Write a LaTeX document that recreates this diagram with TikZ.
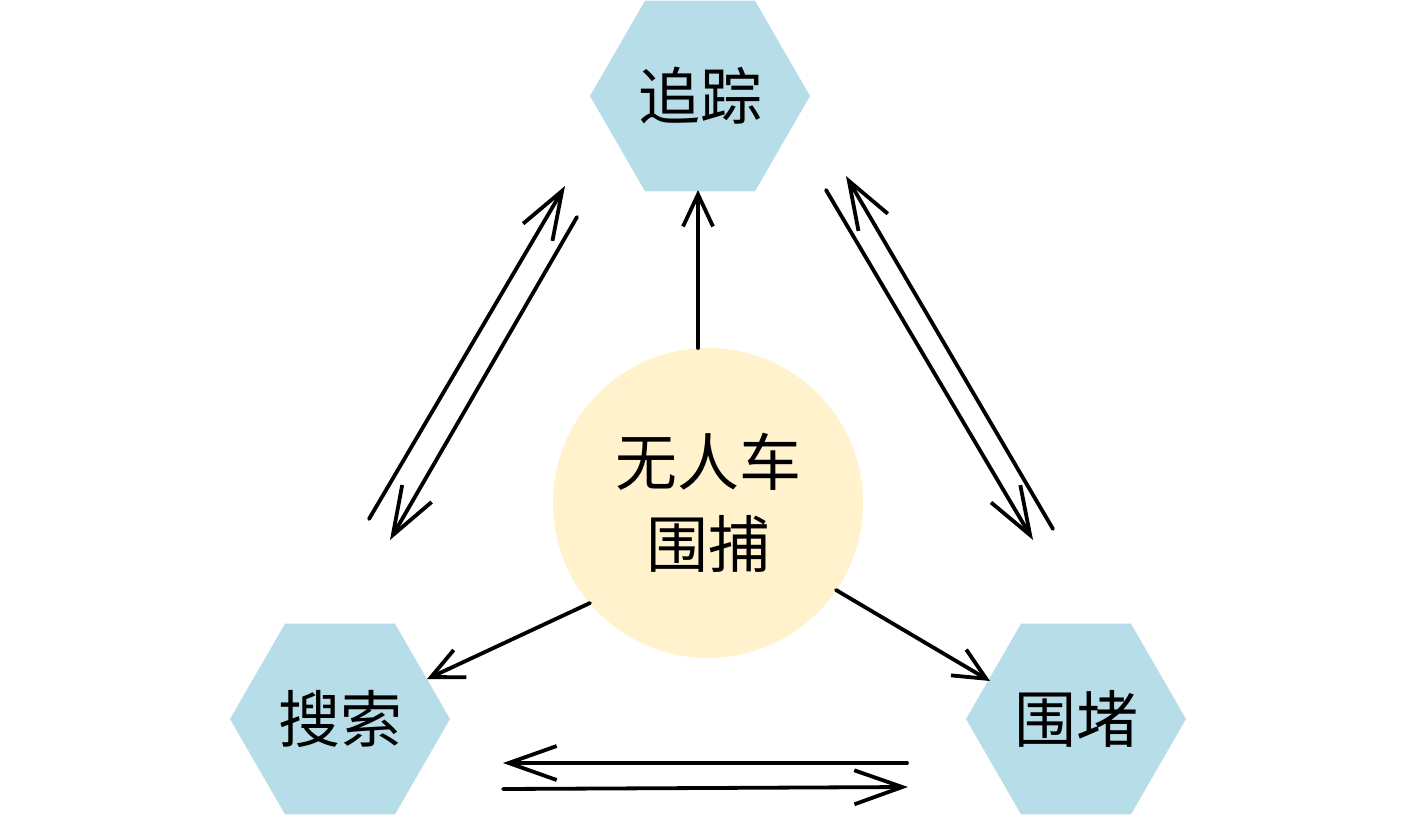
\documentclass[tikz,border=0pt]{standalone}
\usepackage{fontspec}
\newfontfamily\cjk{Noto Sans CJK SC}
\usetikzlibrary{arrows.meta,shapes.geometric}
\definecolor{hexblue}{HTML}{B7DDE8}
\definecolor{circyel}{HTML}{FFF2CC}
\tikzset{
  hexnode/.style={regular polygon, regular polygon sides=6, shape border rotate=0, minimum size=220pt, inner sep=0pt, fill=hexblue, font=\cjk\fontsize{62}{66}\selectfont},
  circnode/.style={circle, minimum size=310pt, inner sep=0pt, fill=circyel, align=center, font=\cjk\fontsize{62}{82}\selectfont},
  conn/.style={line width=3.8pt, line cap=round, -{Straight Barb[length=48pt,width=34pt,line width=3.8pt]}},
  shortconn/.style={line width=3.8pt, line cap=round, -{Straight Barb[length=32pt,width=30pt,line width=3.8pt]}},
}
\begin{document}
\begin{tikzpicture}[x=1pt,y=-1pt]
\useasboundingbox[fill=white] (0,0) rectangle (1417,817);
\node[hexnode] (track) at (700,96) {追踪};
\node[hexnode] (search) at (340,719) {搜索};
\node[hexnode] (block) at (1076,719) {围堵};
\node[circnode] (ctr) at (708,503) {无人车\\围捕};
% from centre
\coordinate (c1) at (698,348);
\coordinate (t1) at (698,190);
\draw[shortconn] (c1) -- (t1);
\coordinate (c2) at (590,603);
\coordinate (s2) at (427,679);
\draw[shortconn] (c2) -- (s2);
\coordinate (c3) at (836,590);
\coordinate (b3) at (990,681);
\draw[shortconn] (c3) -- (b3);
% left pair
\coordinate (l1a) at (369,519);
\coordinate (l1b) at (565,186);
\draw[conn] (l1a) -- (l1b);
\coordinate (l2a) at (577,217);
\coordinate (l2b) at (390,540);
\draw[conn] (l2a) -- (l2b);
% right pair
\coordinate (r1a) at (826,190);
\coordinate (r1b) at (1033,540);
\draw[conn] (r1a) -- (r1b);
\coordinate (r2a) at (1053,529);
\coordinate (r2b) at (846,176);
\draw[conn] (r2a) -- (r2b);
% bottom pair
\coordinate (b1a) at (907,763);
\coordinate (b1b) at (503,763);
\draw[conn] (b1a) -- (b1b);
\coordinate (b2a) at (503,789);
\coordinate (b2b) at (908,787);
\draw[conn] (b2a) -- (b2b);
\end{tikzpicture}
\end{document}
